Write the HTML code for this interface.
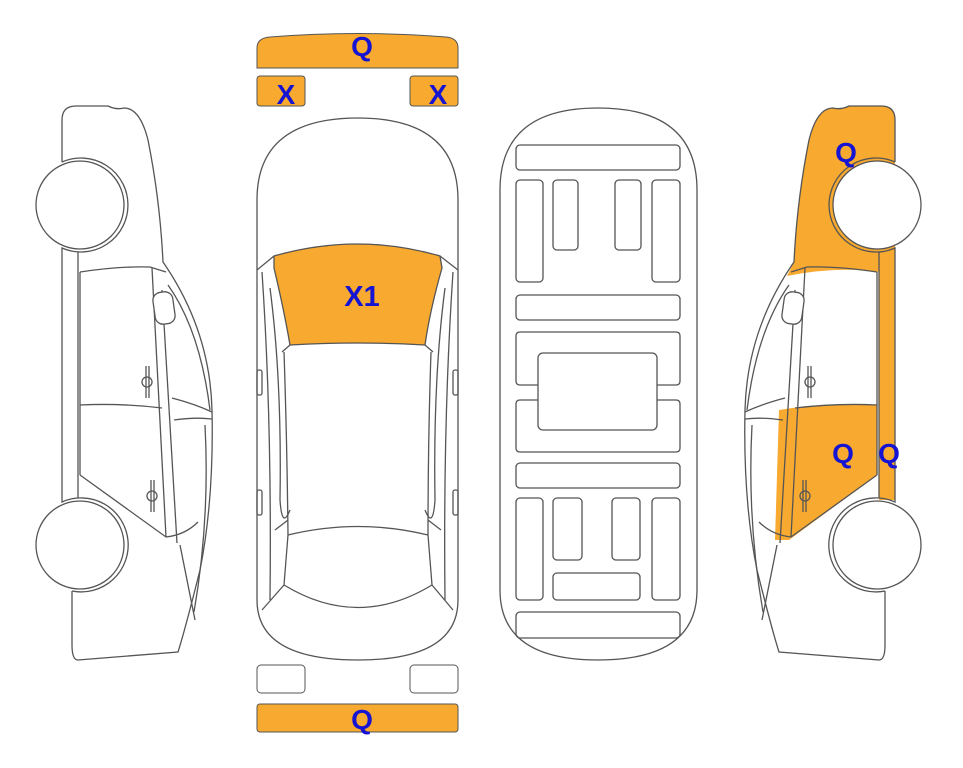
<!DOCTYPE html>
<html><head><meta charset="utf-8"><style>
html,body{margin:0;padding:0;background:#fff;}
svg{display:block;}
text{font-family:"Liberation Sans",Arial,sans-serif;font-weight:bold;fill:#1414d2;text-anchor:middle;}
</style></head><body>
<svg width="963" height="768" viewBox="0 0 963 768" xmlns="http://www.w3.org/2000/svg">
<defs>
<g id="car" fill="none" stroke="#555" stroke-width="1.3">
  <path d="M62,162 L62,120 Q62,106 76,106 L108,106 Q116,110 124,108 Q140,108 148,140 Q160,200 163,262 Q210,330 212,410 Q214,500 200,570 Q185,630 178,652 L78,660 Q72,660 72,645 L72,591"/>
  <path d="M62,162 A47,47 0 1 1 62,248 L62,502 A47,47 0 1 1 72,591"/>
  <circle cx="80" cy="205" r="44" fill="#fff"/>
  <circle cx="80" cy="545" r="44" fill="#fff"/>
  <path d="M78,252 L78,498"/>
  <path d="M80,272 Q120,266 150,267 L166,272"/>
  <path d="M80,272 L80,475"/>
  <path d="M152,268 L166,537"/>
  <path d="M162,290 L177,543"/>
  <path d="M80,405 Q120,403 162,408"/>
  <path d="M80,475 L166,537 Q185,535 198,522"/>
  <path d="M168,285 Q200,330 210,410"/>
  <path d="M172,398 Q195,404 212,412"/>
  <path d="M174,420 Q195,417 212,419"/>
  <path d="M205,425 Q210,520 194,612"/>
  <path d="M180,545 L195,620"/>
  <rect x="154" y="292" width="20" height="32" rx="8" transform="rotate(-8 164 308)" fill="#fff"/>
  <path d="M146,366 L146,398 M149,366 L149,398"/>
  <circle cx="147" cy="382" r="5"/>
  <path d="M151,480 L151,512 M154,480 L154,512"/>
  <circle cx="152" cy="496" r="5"/>
</g>
</defs>

<use href="#car"/>

<g transform="translate(957,0) scale(-1,1)">
  <g fill="#f8a92f" stroke="none">
    <path d="M62,162 L62,120 Q62,106 76,106 L108,106 Q116,110 124,108 Q140,108 148,140 Q160,200 163,262 L170,276 Q120,266 78,272 L78,500 L62,500 Z"/>
    <path d="M80,405 Q120,403 165,408 L178,410 L182,540 L168,540 L80,475 Z"/>
  </g>
  <use href="#car"/>
</g>

<path d="M257,68 L257,48 Q257,38 270,37 Q358,30 446,37 Q458,38 458,48 L458,68 Z" fill="#f8a92f" stroke="#555" stroke-width="1"/>
<rect x="257" y="76" width="48" height="30" rx="3" fill="#f8a92f" stroke="#555" stroke-width="1"/>
<rect x="410" y="76" width="48" height="30" rx="3" fill="#f8a92f" stroke="#555" stroke-width="1"/>
<text x="362" y="56" font-size="28">Q</text>
<text x="286" y="104" font-size="28">X</text>
<text x="438" y="104" font-size="28">X</text>

<g fill="none" stroke="#555" stroke-width="1.3">
  <path d="M257,200 Q257,118 358,118 Q458,118 458,200 L458,600 Q458,660 358,660 Q257,660 257,600 Z"/>
  <path d="M274,256 Q358,232 440,256 L442,268 Q430,310 425,345 Q358,341 290,345 Q284,310 274,268 Z" fill="#f8a92f"/>
  <path d="M257,270 L274,256 M458,270 L440,256"/>
  <path d="M262,272 Q272,420 270,600"/>
  <path d="M453,272 Q443,420 445,600"/>
  <path d="M270,288 Q282,380 280,500 Q282,530 290,510"/>
  <path d="M445,288 Q433,380 435,500 Q433,530 425,510"/>
  <path d="M290,345 L282,352 M425,345 L433,352"/>
  <path d="M284,352 Q287,440 288,535 M431,352 Q428,440 428,535"/>
  <path d="M288,535 Q358,518 428,535 L432,585 Q358,630 284,585 Z"/>
  <path d="M284,585 L262,610 M432,585 L453,610"/>
  <path d="M288,520 L275,530 M428,520 L441,530"/>
  <rect x="257" y="370" width="5" height="25" rx="2"/>
  <rect x="257" y="490" width="5" height="25" rx="2"/>
  <rect x="453" y="370" width="5" height="25" rx="2"/>
  <rect x="453" y="490" width="5" height="25" rx="2"/>
</g>
<text x="362" y="306" font-size="29">X1</text>

<rect x="257" y="665" width="48" height="28" rx="4" fill="#fff" stroke="#555" stroke-width="1"/>
<rect x="410" y="665" width="48" height="28" rx="4" fill="#fff" stroke="#555" stroke-width="1"/>
<rect x="257" y="704" width="201" height="28" rx="3" fill="#f8a92f" stroke="#555" stroke-width="1"/>
<text x="362" y="729" font-size="28">Q</text>

<g fill="none" stroke="#555" stroke-width="1.3">
  <path d="M500,190 Q500,108 598,108 Q697,108 697,190 L697,590 Q697,660 598,660 Q500,660 500,590 Z"/>
  <rect x="516" y="145" width="164" height="25" rx="4"/>
  <rect x="516" y="180" width="27" height="102" rx="4"/>
  <rect x="553" y="180" width="25" height="70" rx="4"/>
  <rect x="615" y="180" width="26" height="70" rx="4"/>
  <rect x="652" y="180" width="28" height="102" rx="4"/>
  <rect x="516" y="295" width="164" height="25" rx="4"/>
  <path d="M538,385 L520,385 Q516,385 516,381 L516,336 Q516,332 520,332 L676,332 Q680,332 680,336 L680,381 Q680,385 676,385 L657,385"/>
  <path d="M538,400 L520,400 Q516,400 516,404 L516,448 Q516,452 520,452 L676,452 Q680,452 680,448 L680,404 Q680,400 676,400 L657,400"/>
  <rect x="538" y="353" width="119" height="77" rx="5"/>
  <rect x="516" y="463" width="164" height="25" rx="4"/>
  <rect x="516" y="498" width="27" height="102" rx="4"/>
  <rect x="553" y="498" width="29" height="62" rx="4"/>
  <rect x="612" y="498" width="28" height="62" rx="4"/>
  <rect x="652" y="498" width="28" height="102" rx="4"/>
  <rect x="553" y="573" width="87" height="27" rx="4"/>
  <rect x="516" y="612" width="164" height="26" rx="4"/>
</g>

<text x="846" y="162" font-size="28">Q</text>
<text x="843" y="463" font-size="28">Q</text>
<text x="889" y="463" font-size="28">Q</text>
</svg>
</body></html>
